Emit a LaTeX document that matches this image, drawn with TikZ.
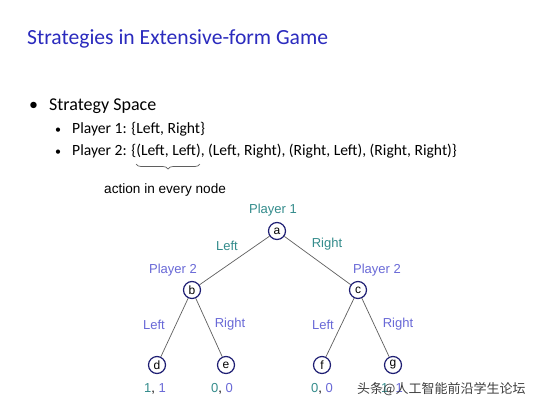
\documentclass[tikz,border=0pt]{standalone}
\usepackage{fontspec}
\setmainfont{Carlito}
\newfontfamily\arialf{Liberation Sans}
\newfontfamily\cjkf{Noto Sans CJK SC}
\usetikzlibrary{decorations.pathreplacing}
\definecolor{titleblue}{RGB}{43,43,190}
\definecolor{teal2}{RGB}{52,140,140}
\definecolor{lav}{RGB}{105,105,215}
\definecolor{navy}{RGB}{30,30,115}
\definecolor{edgegray}{RGB}{95,95,95}
\tikzset{
  gnode/.style={circle,draw=navy,line width=1.2pt,fill=white,minimum size=17pt,inner sep=0pt,font=\arialf\fontsize{12}{12}\selectfont},
  gedge/.style={draw=edgegray,line width=0.7pt},
  tlab/.style={font=\arialf\fontsize{13}{13}\selectfont,text=teal2,inner sep=0pt},
  llab/.style={font=\arialf\fontsize{13}{13}\selectfont,text=lav,inner sep=0pt},
  pay/.style={font=\arialf\fontsize{13}{13}\selectfont,inner sep=0pt},
  subtext/.style={anchor=base west,inner sep=0pt,font=\fontsize{15.6}{15.6}\selectfont},
}
\begin{document}
\begin{tikzpicture}[x=1pt,y=-1pt]
\useasboundingbox[fill=white] (0,0) rectangle (554,410);
% title
\node[anchor=base west,inner sep=0pt,text=titleblue,font=\fontsize{21.6}{21.6}\selectfont] (title) at (27,44) {Strategies in Extensive-form Game};
% bullets
\node[anchor=base west,inner sep=0pt,font=\fontsize{18}{18}\selectfont] (b1) at (29,110) {\textbullet};
\node[anchor=base west,inner sep=0pt,font=\fontsize{18}{18}\selectfont] (s1) at (49,110) {Strategy Space};
\node[subtext,font=\fontsize{12}{12}\selectfont] (b2) at (55,133) {\textbullet};
\node[subtext] (s2) at (72,133) {Player 1: \{Left, Right\}};
\node[subtext,font=\fontsize{12}{12}\selectfont] (b3) at (55,155) {\textbullet};
\node[subtext] (s3) at (72,155) {Player 2: \{(Left, Left), (Left, Right), (Right, Left), (Right, Right)\}};
% brace
\coordinate (brl) at (136,164);
\coordinate (brr) at (200,164);
\draw[edgegray,line width=0.7pt,decorate,decoration={brace,mirror,amplitude=5pt}] (brl) -- (brr);
\node[anchor=base west,inner sep=0pt,font=\arialf\fontsize{13.6}{13.6}\selectfont] (act) at (104,193) {action in every node};
% tree nodes
\node[gnode] (a) at (277,231) {a};
\node[gnode] (b) at (192,290) {b};
\node[gnode] (c) at (358,290) {c};
\node[gnode] (d) at (157,365) {d};
\node[gnode] (e) at (226,365) {e};
\node[gnode] (f) at (322,365) {f};
\node[gnode] (g) at (393,365) {g};
\draw[gedge] (a) -- (b);
\draw[gedge] (a) -- (c);
\draw[gedge] (b) -- (d);
\draw[gedge] (b) -- (e);
\draw[gedge] (c) -- (f);
\draw[gedge] (c) -- (g);
% labels
\node[tlab] (p1) at (273,210) {Player 1};
\node[tlab] (la) at (227,246) {Left};
\node[tlab] (ra) at (327,244) {Right};
\node[llab] (p2b) at (173,270) {Player 2};
\node[llab] (p2c) at (377,270) {Player 2};
\node[llab] (lb) at (154,325) {Left};
\node[llab] (rb) at (230,324) {Right};
\node[llab] (lc) at (323,325) {Left};
\node[llab] (rc) at (398,324) {Right};
% payoffs
\node[pay] (pd) at (155,389) {\textcolor{teal2}{1}, \textcolor{lav}{1}};
\node[pay] (pe) at (222,389) {\textcolor{teal2}{0}, \textcolor{lav}{0}};
\node[pay] (pf) at (322,389) {\textcolor{teal2}{0}, \textcolor{lav}{0}};
\node[pay] (pg) at (392,389) {\textcolor{teal2}{1}, \textcolor{lav}{1}};
% watermark
\node[anchor=west,inner sep=0pt,text=black!75,font=\cjkf\fontsize{13}{13}\selectfont] (wm) at (357,389) {头条@人工智能前沿学生论坛};
\end{tikzpicture}
\end{document}
